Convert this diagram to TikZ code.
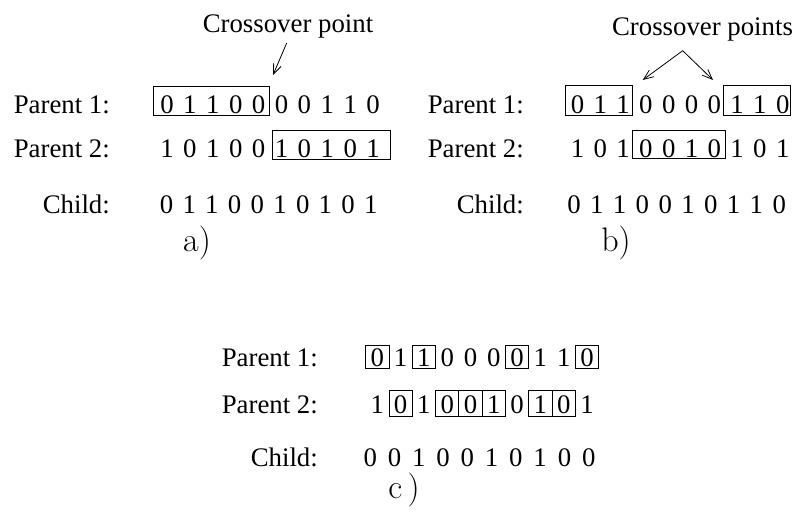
\documentclass[tikz,border=0pt]{standalone}
\usepackage{fontspec}
\usetikzlibrary{arrows.meta,calc}
\newfontfamily\tms{Liberation Serif}
\newcommand\DigRow[5]{%
  \foreach \dd [count=\ii] in {#5}{%
    \node[dig] (#1\ii) at ({#2+(\ii-1)*#3},#4) {\dd};}}
\tikzset{
  txt/.style={font=\tms\fontsize{26.8}{30}\selectfont, inner sep=0pt},
  dig/.style={txt, anchor=base},
  lbl/.style={txt, anchor=base east},
  captxt/.style={txt, anchor=base},
  pan/.style={font=\fontsize{34}{38}\selectfont, anchor=base, inner sep=0pt},
  frame/.style={draw=black, line width=0.8pt},
  arr/.style={draw=black, line width=0.8pt, -{Straight Barb[length=10pt,width=8pt]}},
}
\begin{document}
\begin{tikzpicture}[x=1pt,y=-1pt]
\path[use as bounding box] (0,0) rectangle (795,512);
% ---------------- panel a ----------------
\node[captxt] (cpa) at (288,32) {Crossover point};
\coordinate (cpaS) at (286.7,43);
\coordinate (cpaT) at (273,75);
\draw[arr] (cpaS) -- (cpaT);
\node[lbl] (ap1) at (110,113) {Parent 1:};
\node[lbl] (ap2) at (110,157) {Parent 2:};
\node[lbl] (ach) at (110,213) {Child:};
\DigRow{aA}{167}{22.9}{113}{0,1,1,0,0,0,0,1,1,0}
\DigRow{aB}{167}{22.9}{157}{1,0,1,0,0,1,0,1,0,1}
\DigRow{aC}{166.5}{22.7}{213}{0,1,1,0,0,1,0,1,0,1}
\draw[frame] (153,86) rectangle (269.5,115);
\draw[frame] (272,130) rectangle (390,159);
\node[pan] (la) at (197,251) {a)};
% ---------------- panel b ----------------
\node[captxt] (cpb) at (702.5,35) {Crossover points};
\coordinate (cpbS) at (682.7,50.7);
\coordinate (cpbL) at (642.7,80);
\coordinate (cpbR) at (713,80);
\draw[arr] (cpbS) -- (cpbL);
\draw[arr] (cpbS) -- (cpbR);
\node[lbl] (bp1) at (524,113) {Parent 1:};
\node[lbl] (bp2) at (524,157) {Parent 2:};
\node[lbl] (bch) at (524,213) {Child:};
\DigRow{bA}{577.5}{22.8}{113}{0,1,1,0,0,0,0,1,1,0}
\DigRow{bB}{577.5}{22.8}{157}{1,0,1,0,0,1,0,1,0,1}
\DigRow{bC}{574}{22.8}{213}{0,1,1,0,0,1,0,1,1,0}
\draw[frame] (565,85) rectangle (632.7,115);
\draw[frame] (723,85) rectangle (790,115);
\draw[frame] (632.7,130) rectangle (725,158);
\node[pan] (lb) at (616,251) {b)};
% ---------------- panel c ----------------
\node[lbl] (cp1) at (318,366.5) {Parent 1:};
\node[lbl] (cp2) at (318,413.5) {Parent 2:};
\node[lbl] (cch) at (318,466.7) {Child:};
\DigRow{cA}{377.3}{23.3}{366.5}{0,1,1,0,0,0,0,1,1,0}
\DigRow{cB}{377.3}{23.3}{413.5}{1,0,1,0,0,1,0,1,0,1}
\DigRow{cC}{370.3}{24.27}{466.7}{0,0,1,0,0,1,0,1,0,0}
\foreach \k in {1,3,7,10}{
  \draw[frame] ($(cA\k.base)+(-11.65,-21.5)$) rectangle ($(cA\k.base)+(11.65,1.8)$);}
\foreach \k in {2,4,5,6,8,9}{
  \draw[frame] ($(cB\k.base)+(-11.65,-23.5)$) rectangle ($(cB\k.base)+(11.65,2.5)$);}
\node[pan] (lc) at (404,498) {c\,)};
\end{tikzpicture}
\end{document}
